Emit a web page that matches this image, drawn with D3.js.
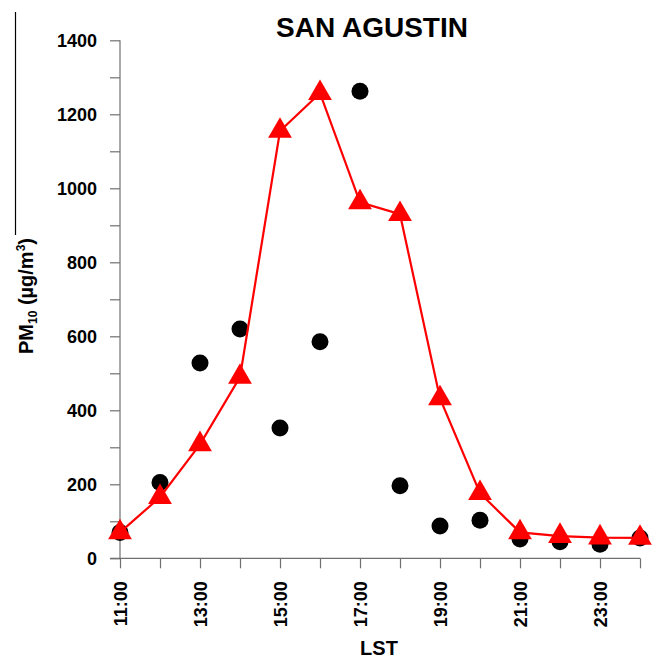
<!DOCTYPE html>
<html>
<head>
<meta charset="utf-8">
<script src="https://cdn.jsdelivr.net/npm/d3@7"></script>
<style>
  html, body { margin: 0; padding: 0; background: #fff; }
  svg { display: block; font-family: "Liberation Sans", Arial, sans-serif; }
</style>
</head>
<body>
<svg id="chart" width="659" height="658"></svg>
<script>
// Hours (LST) 11:00 .. 24:00
const hours = [11, 12, 13, 14, 15, 16, 17, 18, 19, 20, 21, 22, 23, 24];
// Observed PM10 (black circles)
const observed = [70, 205, 528, 620, 352, 585, 1262, 196, 87, 103, 52, 45, 38, 55];
// Modelled PM10 (red triangles + line)
const modelled = [70, 165, 308, 490, 1155, 1257, 962, 930, 432, 176, 70, 60, 56, 55];
// Axis ticks
const yMajorTicks = [0, 200, 400, 600, 800, 1000, 1200, 1400];
const yMinorTicks = [100, 300, 500, 700, 900, 1100, 1300];
const xLabelHours = [11, 13, 15, 17, 19, 21, 23];
const xLabels = ["11:00", "13:00", "15:00", "17:00", "19:00", "21:00", "23:00"];

const svg = d3.select("#chart");
const axisColor = "#707070";

const x = d3.scaleLinear().domain([11, 24]).range([120, 640]);
const y = d3.scaleLinear().domain([0, 1400]).range([558.3, 40.3]);

// stray frame line at left edge
svg.append("line").attr("x1", 15.5).attr("x2", 15.5).attr("y1", 12).attr("y2", 235)
  .attr("stroke", "#000").attr("stroke-width", 1.2);

// Title
svg.append("text").attr("x", 372).attr("y", 37).attr("text-anchor", "middle")
  .attr("font-size", 28).attr("font-weight", "bold").attr("fill", "#000")
  .text("SAN AGUSTIN");

// Y axis
const yAxis = d3.axisLeft(y).tickValues(yMajorTicks.concat(yMinorTicks)).tickSize(10)
  .tickFormat(d => yMajorTicks.includes(d) ? d : "");
const gy = svg.append("g").attr("transform", "translate(120,0)").call(yAxis);
gy.select(".domain").attr("stroke", axisColor).attr("stroke-width", 1.2).attr("d", `M0,${y(1400)}V${y(0)}`);
gy.selectAll(".tick line").attr("stroke", axisColor).attr("stroke-width", 1.2);
gy.selectAll(".tick text").attr("font-size", 18).attr("font-weight", "bold")
  .attr("fill", "#000").attr("font-family", "Liberation Sans, Arial, sans-serif")
  .attr("x", -23);

// X axis
const xAxis = d3.axisBottom(x).tickValues(hours).tickSize(10)
  .tickFormat(d => { const i = xLabelHours.indexOf(d); return i >= 0 ? xLabels[i] : ""; });
const gx = svg.append("g").attr("transform", `translate(0,${y(0)})`).call(xAxis);
gx.select(".domain").attr("stroke", axisColor).attr("stroke-width", 1.2).attr("d", `M110,0H${x(24)}`);
gx.selectAll(".tick line").attr("stroke", axisColor).attr("stroke-width", 1.2);
gx.selectAll(".tick text").attr("font-size", 18).attr("font-weight", "bold")
  .attr("fill", "#000").attr("font-family", "Liberation Sans, Arial, sans-serif")
  .attr("transform", "rotate(-90)").attr("text-anchor", "end")
  .attr("x", -23).attr("y", 0).attr("dy", "0.35em");

// Axis titles
svg.append("text").attr("x", 379).attr("y", 655).attr("text-anchor", "middle")
  .attr("font-size", 20).attr("font-weight", "bold").attr("fill", "#000").text("LST");

const yl = svg.append("text").attr("transform", "translate(33,296) rotate(-90)")
  .attr("text-anchor", "middle").attr("font-size", 20).attr("font-weight", "bold").attr("fill", "#000");
yl.append("tspan").text("PM");
yl.append("tspan").attr("font-size", 12).attr("dy", 4).text("10");
yl.append("tspan").attr("dy", -4).text(" (µg/m");
yl.append("tspan").attr("font-size", 12).attr("dy", -8).text("3");
yl.append("tspan").attr("dy", 8).text(")");

// Observed circles
svg.append("g").selectAll("circle").data(hours).join("circle")
  .attr("cx", d => x(d)).attr("cy", (d, i) => y(observed[i])).attr("r", 8.5).attr("fill", "#000");

// Modelled line
const line = d3.line().x(d => x(d)).y((d, i) => y(modelled[i]));
svg.append("path").datum(hours).attr("d", line).attr("fill", "none")
  .attr("stroke", "#ff0000").attr("stroke-width", 2.2);

// Modelled triangles
const tri = d3.symbol().type(d3.symbolTriangle).size(245);
svg.append("g").selectAll("path").data(hours).join("path")
  .attr("d", tri).attr("transform", (d, i) => `translate(${x(d)},${y(modelled[i])})`)
  .attr("fill", "#ff0000");
</script>
</body>
</html>
